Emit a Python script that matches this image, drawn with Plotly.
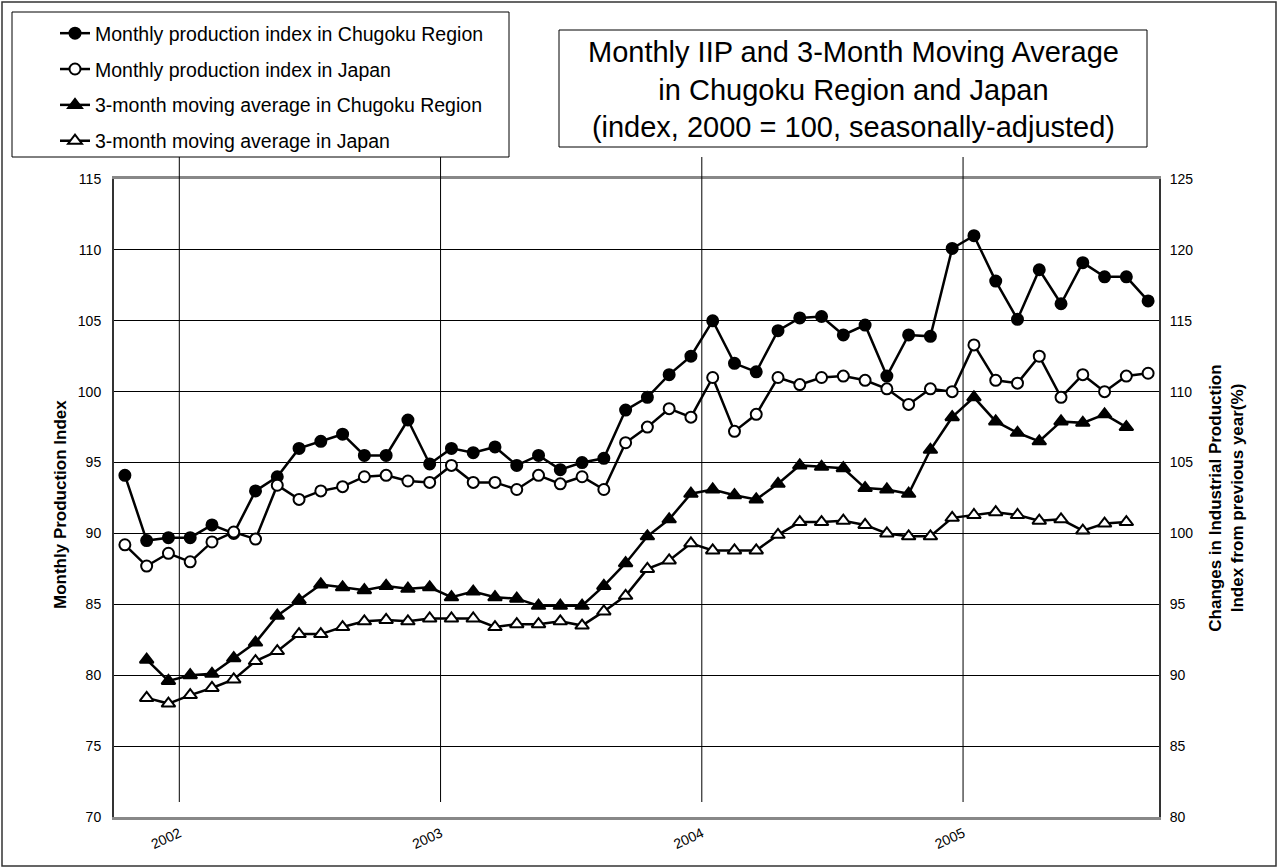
import plotly.graph_objects as go

# months on the category axis (Oct 2001 - Sep 2005)
months = [f"{y}-{m:02d}" for y in range(2001, 2006) for m in range(1, 13)][9:57]

# monthly production index, 2000 = 100 (left axis)
chugoku_monthly = [94.1, 89.5, 89.7, 89.7, 90.6, 90.0, 93.0, 94.0, 96.0, 96.5, 97.0, 95.5,
                   95.5, 98.0, 94.9, 96.0, 95.7, 96.1, 94.8, 95.5, 94.5, 95.0, 95.3, 98.7,
                   99.6, 101.2, 102.5, 105.0, 102.0, 101.4, 104.3, 105.2, 105.3, 104.0, 104.7, 101.1,
                   104.0, 103.9, 110.1, 111.0, 107.8, 105.1, 108.6, 106.2, 109.1, 108.1, 108.1, 106.4]
japan_monthly = [89.2, 87.7, 88.6, 88.0, 89.4, 90.1, 89.6, 93.4, 92.4, 93.0, 93.3, 94.0,
                 94.1, 93.7, 93.6, 94.8, 93.6, 93.6, 93.1, 94.1, 93.5, 94.0, 93.1, 96.4,
                 97.5, 98.8, 98.2, 101.0, 97.2, 98.4, 101.0, 100.5, 101.0, 101.1, 100.8, 100.2,
                 99.1, 100.2, 100.0, 103.3, 100.8, 100.6, 102.5, 99.6, 101.2, 100.0, 101.1, 101.3]

# 3-month moving averages (right axis)
chugoku_3ma = [None, 91.1, 89.6, 90.0, 90.1, 91.2, 92.3, 94.2, 95.3, 96.4, 96.2, 96.0,
               96.3, 96.1, 96.2, 95.5, 95.9, 95.5, 95.4, 94.9, 94.9, 94.9, 96.3, 97.9,
               99.8, 101.0, 102.8, 103.1, 102.7, 102.4, 103.5, 104.8, 104.7, 104.6, 103.2, 103.1,
               102.8, 105.9, 108.2, 109.6, 107.9, 107.1, 106.5, 107.9, 107.8, 108.4, 107.5, None]
japan_3ma = [None, 88.4, 88.0, 88.6, 89.1, 89.7, 91.0, 91.7, 92.9, 92.9, 93.4, 93.8,
             93.9, 93.8, 94.0, 94.0, 94.0, 93.4, 93.6, 93.6, 93.8, 93.5, 94.5, 95.6,
             97.5, 98.1, 99.3, 98.8, 98.8, 98.8, 99.9, 100.8, 100.8, 100.9, 100.6, 100.0,
             99.8, 99.8, 101.1, 101.3, 101.5, 101.3, 100.9, 101.0, 100.2, 100.7, 100.8, None]

W, H = 1279, 868
L, R, T, B = 114, 120, 179, 51
FONT = "Liberation Sans, Arial, sans-serif"


def px(xp):
    return (xp - L) / (W - L - R)


def py(yp):
    return (H - B - yp) / (H - T - B)


x = list(range(len(months)))
year_bounds = [i - 0.5 for i, m in enumerate(months) if m.endswith("-01")]
year_text = [months[int(b + 0.5)][:4] for b in year_bounds]

fig = go.Figure()
series = [
    ("Monthly production index in Chugoku Region", chugoku_monthly, "circle", "black", "y"),
    ("Monthly production index in Japan", japan_monthly, "circle", "white", "y"),
    ("3-month moving average in Chugoku Region", chugoku_3ma, "triangle-up", "black", "y2"),
    ("3-month moving average in Japan", japan_3ma, "triangle-up", "white", "y2"),
]
for name, vals, sym, fill, ax in series:
    fig.add_trace(go.Scatter(
        x=x, y=vals, name=name, yaxis=ax, mode="lines+markers", legendgroup=name,
        line=dict(color="black", width=2.5),
        marker=dict(symbol=sym, size=11 if sym == "circle" else 12, color=fill,
                    line=dict(color="black", width=2)),
    ))

for b in year_bounds:
    fig.add_shape(type="line", xref="x", yref="paper", x0=b, x1=b,
                  y0=py(802), y1=py(157), line=dict(color="black", width=1))

# outer frame, legend box, title box
fig.add_shape(type="rect", xref="paper", yref="paper", x0=px(2), x1=px(1276),
              y0=py(866), y1=py(2), line=dict(color="#333333", width=1.5))
fig.add_shape(type="rect", xref="paper", yref="paper", x0=px(12), x1=px(509),
              y0=py(157), y1=py(12), line=dict(color="black", width=1),
              fillcolor="white", layer="below")
fig.add_shape(type="rect", xref="paper", yref="paper", x0=px(559), x1=px(1147),
              y0=py(147), y1=py(30), line=dict(color="black", width=1))
fig.add_annotation(
    xref="paper", yref="paper", x=px(853), y=py(89), xanchor="center", yanchor="middle",
    showarrow=False,
    text="Monthly IIP and 3-Month Moving Average<br>in Chugoku Region and Japan"
         "<br>(index, 2000 = 100, seasonally-adjusted)",
    font=dict(family=FONT, size=29, color="black"), align="center")
fig.add_annotation(
    xref="paper", yref="paper", x=px(60), y=py(505), xanchor="center", yanchor="middle",
    showarrow=False, textangle=-90, text="<b>Monthly Production Index</b>",
    font=dict(family=FONT, size=17, color="black"))

fig.update_layout(
    width=W, height=H, margin=dict(l=L, r=R, t=T, b=B, autoexpand=False),
    paper_bgcolor="white", plot_bgcolor="white",
    font=dict(family=FONT, color="black"),
    legend=dict(xref="container", yref="container", x=55 / W, y=1 - 14 / H,
                xanchor="left", yanchor="top", font=dict(size=19.5),
                bgcolor="rgba(0,0,0,0)", tracegroupgap=7.5),
    xaxis=dict(range=[-0.5, len(months) - 0.5], tickvals=year_bounds, ticktext=year_text,
               tickangle=-25, showgrid=False, zeroline=False, ticks="",
               showline=True, linecolor="#888888", linewidth=3, mirror=True,
               tickfont=dict(size=14)),
    yaxis=dict(range=[70, 115], dtick=5, showgrid=True, gridcolor="black", gridwidth=1,
               zeroline=False, showline=True, linecolor="#333333", linewidth=2,
               ticklabelstandoff=8, tickfont=dict(size=14)),
    yaxis2=dict(title=dict(text="<b>Changes in Industrial Production<br>Index from previous year(%)</b>",
                           font=dict(size=17), standoff=17),
                range=[80, 125], dtick=5, overlaying="y", side="right", showgrid=False,
                zeroline=False, showline=True, linecolor="#333333", linewidth=2,
                ticklabelstandoff=6, tickfont=dict(size=14)),
)

fig.write_html("out.html", config={"displayModeBar": False},
               post_script="document.body.style.margin='0px';")
